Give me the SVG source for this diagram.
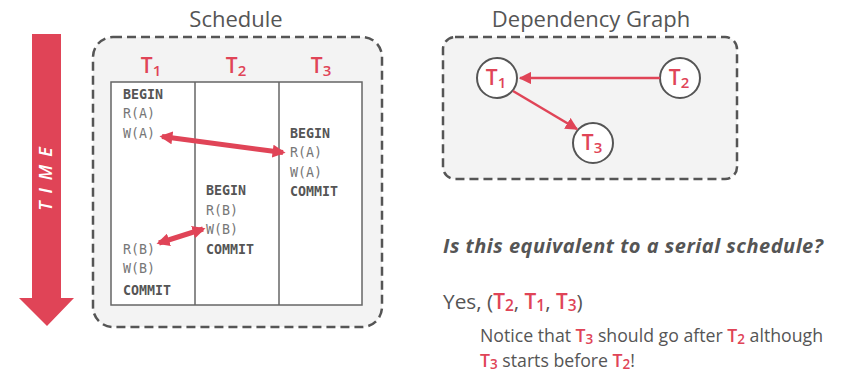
<svg xmlns="http://www.w3.org/2000/svg" width="852" height="371" viewBox="0 0 852 371">
<style>
.title{font-family:"Open Sans","Liberation Sans",sans-serif;font-size:22px;fill:#555}
.box{fill:#f3f3f3;stroke:#555;stroke-width:2.5;stroke-dasharray:9 5}
.red{fill:#e04457;font-weight:600}
.hdr{font-family:"Open Sans","Liberation Sans",sans-serif;font-size:21px;font-weight:600;fill:#e04457;text-anchor:middle}
.op{font-family:"DejaVu Sans Mono","Liberation Mono",monospace;font-size:13.3px;fill:#777}
.kw{font-family:"DejaVu Sans Mono","Liberation Mono",monospace;font-size:13.3px;font-weight:bold;fill:#555}
.node{fill:#fff;stroke:#555;stroke-width:2}
.nl{font-family:"Open Sans","Liberation Sans",sans-serif;font-size:21px;font-weight:600;fill:#e04457;text-anchor:middle}
.conn{stroke:#e04457;fill:none}
.body{font-family:"Open Sans","Liberation Sans",sans-serif;fill:#555}
</style>
<defs>
<marker id="ah" viewBox="0 0 10 10" refX="8" refY="5" markerWidth="2.6" markerHeight="2.6" orient="auto-start-reverse" markerUnits="strokeWidth"><path d="M0,0 L10,5 L0,10 z" fill="#e04457"/></marker>
<marker id="ah2" viewBox="0 0 10 10" refX="9" refY="5" markerWidth="5" markerHeight="5" orient="auto" markerUnits="strokeWidth"><path d="M0,0 L10,5 L0,10 z" fill="#e04457"/></marker>
</defs>

<g id="time-arrow">
<polygon class="red" points="32,34 61,34 61,298 74,298 47,326 19,298 32,298"/>
<text transform="translate(52,175) rotate(-90)" text-anchor="middle" font-family="Open Sans, Liberation Sans, sans-serif" font-size="18" font-weight="600" font-style="italic" fill="#fff" letter-spacing="8">TIME</text>
</g>

<g id="schedule">
<text class="title" x="236" y="27" text-anchor="middle">Schedule</text>
<rect class="box" x="93" y="37" width="289" height="290" rx="20"/>
<rect x="111" y="82" width="251" height="223" fill="#fff" stroke="#666" stroke-width="1.5"/>
<line x1="195" y1="82" x2="195" y2="305" stroke="#666" stroke-width="1.5"/>
<line x1="279" y1="82" x2="279" y2="305" stroke="#666" stroke-width="1.5"/>
<text class="hdr" x="151" y="73">T<tspan font-size="15" dy="3">1</tspan></text>
<text class="hdr" x="236" y="73">T<tspan font-size="15" dy="3">2</tspan></text>
<text class="hdr" x="321" y="73">T<tspan font-size="15" dy="3">3</tspan></text>
</g>

<g id="T1-ops">
<text class="kw" x="123" y="98.5">BEGIN</text>
<text class="op" x="123" y="118">R(A)</text>
<text class="op" x="123" y="137.5">W(A)</text>
<text class="op" x="123" y="253.5">R(B)</text>
<text class="op" x="123" y="273">W(B)</text>
<text class="kw" x="123" y="294.5">COMMIT</text>
</g>
<g id="T2-ops">
<text class="kw" x="206" y="195">BEGIN</text>
<text class="op" x="206" y="214.5">R(B)</text>
<text class="op" x="206" y="234">W(B)</text>
<text class="kw" x="206" y="253.5">COMMIT</text>
</g>
<g id="T3-ops">
<text class="kw" x="290" y="137.5">BEGIN</text>
<text class="op" x="290" y="157">R(A)</text>
<text class="op" x="290" y="176.5">W(A)</text>
<text class="kw" x="290" y="196">COMMIT</text>
</g>

<g id="graph">
<text class="title" x="591" y="27" text-anchor="middle">Dependency Graph</text>
<rect class="box" x="443" y="37" width="294" height="142" rx="12"/>
</g>
<g id="node-T1"><circle class="node" cx="497" cy="78" r="20"/><text class="nl" x="496" y="85">T<tspan font-size="15" dy="3">1</tspan></text></g>
<g id="node-T2"><circle class="node" cx="680" cy="78" r="20"/><text class="nl" x="679" y="85">T<tspan font-size="15" dy="3">2</tspan></text></g>
<g id="node-T3"><circle class="node" cx="593" cy="143" r="20"/><text class="nl" x="592" y="150">T<tspan font-size="15" dy="3">3</tspan></text></g>

<g id="connectors">
<line class="conn" x1="162" y1="136.5" x2="283" y2="152.5" stroke-width="5" marker-start="url(#ah)" marker-end="url(#ah)"/>
<line class="conn" x1="159" y1="243" x2="203" y2="229" stroke-width="5" marker-start="url(#ah)" marker-end="url(#ah)"/>
<line class="conn" x1="660" y1="78" x2="520" y2="78" stroke-width="2.5" marker-end="url(#ah2)"/>
<line class="conn" x1="513" y1="91" x2="577" y2="129" stroke-width="2.5" marker-end="url(#ah2)"/>
</g>

<g id="text">
<text class="body" x="443" y="253" font-size="20" font-weight="bold" font-style="italic" fill="#444" letter-spacing="0.5">Is this equivalent to a serial schedule?</text>
<text class="body" x="443" y="309" font-size="20.8">Yes, (<tspan class="red">T<tspan font-size="15.5" dy="2">2</tspan></tspan><tspan dy="-2">, </tspan><tspan class="red">T<tspan font-size="15.5" dy="2">1</tspan></tspan><tspan dy="-2">, </tspan><tspan class="red">T<tspan font-size="15.5" dy="2">3</tspan></tspan><tspan dy="-2">)</tspan></text>
<text class="body" x="480" y="342" font-size="17.7">Notice that <tspan class="red">T<tspan font-size="13.5" dy="2">3</tspan></tspan><tspan dy="-2"> should go after </tspan><tspan class="red">T<tspan font-size="13.5" dy="2">2</tspan></tspan><tspan dy="-2"> although</tspan></text>
<text class="body" x="480" y="366.5" font-size="17.7"><tspan class="red">T<tspan font-size="13.5" dy="2">3</tspan></tspan><tspan dy="-2"> starts before </tspan><tspan class="red">T<tspan font-size="13.5" dy="2">2</tspan></tspan><tspan dy="-2">!</tspan></text>
</g>
</svg>
